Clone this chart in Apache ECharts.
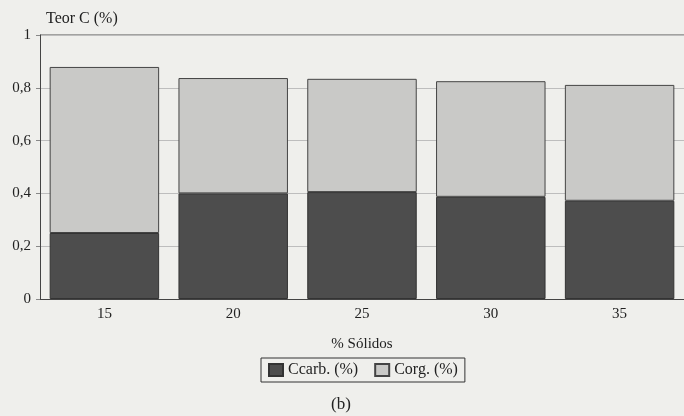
<!DOCTYPE html>
<html><head><meta charset="utf-8">
<script src="https://cdn.jsdelivr.net/npm/echarts@6/dist/echarts.min.js"></script>
<style>html,body{margin:0;padding:0;background:#efefec;}#c{width:684px;height:416px;}</style>
</head><body><div id="c"></div>
<script>
var categories = ['15', '20', '25', '30', '35'];
var ccarb = [0.25, 0.40, 0.405, 0.387, 0.372];
var corg = [0.629, 0.437, 0.429, 0.438, 0.439];
var yTicks = [0, 0.2, 0.4, 0.6, 0.8, 1];

var font = 'Liberation Serif';
var chart = echarts.init(document.getElementById('c'));
chart.setOption({
  backgroundColor: '#efefec',
  animation: false,
  textStyle: {fontFamily: font, color: '#222'},
  grid: {left: 40, right: -1, top: 35, bottom: 117},
  legend: {
    data: ['Ccarb. (%)', 'Corg. (%)'],
    top: 358, left: 261,
    icon: 'rect',
    itemWidth: 14, itemHeight: 12, itemGap: 16,
    padding: [4, 7],
    borderColor: '#333', borderWidth: 1,
    textStyle: {fontFamily: font, fontSize: 16, color: '#222', padding: [0, 0, 0, 0]}
  },
  xAxis: {
    type: 'category', data: categories,
    name: '% Sólidos', nameLocation: 'middle', nameGap: 38,
    nameTextStyle: {fontFamily: font, fontSize: 15, color: '#222'},
    axisLine: {lineStyle: {color: '#444', width: 1}},
    axisTick: {show: false},
    axisLabel: {fontFamily: font, fontSize: 15, color: '#222', margin: 8}
  },
  yAxis: {
    type: 'value', min: 0, max: 1, interval: 0.2,
    name: 'Teor C (%)', nameLocation: 'end', nameGap: 8,
    nameTextStyle: {fontFamily: font, fontSize: 16, color: '#222', align: 'left', padding: [0, 0, 0, 6]},
    axisLine: {show: true, lineStyle: {color: '#444', width: 1}},
    axisTick: {show: true, length: 4, lineStyle: {color: '#888'}},
    splitLine: {show: true, lineStyle: {color: '#bdbdbd', width: 1}},
    axisLabel: {fontFamily: font, fontSize: 15, color: '#222', margin: 9,
      formatter: function (v) { return v === 1 ? '1' : String(+v.toFixed(1)).replace('.', ','); }}
  },
  series: [
    {name: 'Ccarb. (%)', type: 'bar', stack: 't', data: ccarb, barCategoryGap: '15%',
     itemStyle: {color: '#4d4d4d', borderColor: '#333', borderWidth: 1}},
    {name: 'Corg. (%)', type: 'bar', stack: 't', data: corg, barCategoryGap: '15%',
     itemStyle: {color: '#c9c9c7', borderColor: '#444', borderWidth: 1}}
  ],
  graphic: [
    {type: 'line', shape: {x1: 40, y1: 35, x2: 684, y2: 35}, style: {stroke: '#555', lineWidth: 1}},
    {type: 'text', left: 331, top: 396, style: {text: '(b)', font: '17px "Liberation Serif"', fill: '#222'}}
  ]
});
</script></body></html>
